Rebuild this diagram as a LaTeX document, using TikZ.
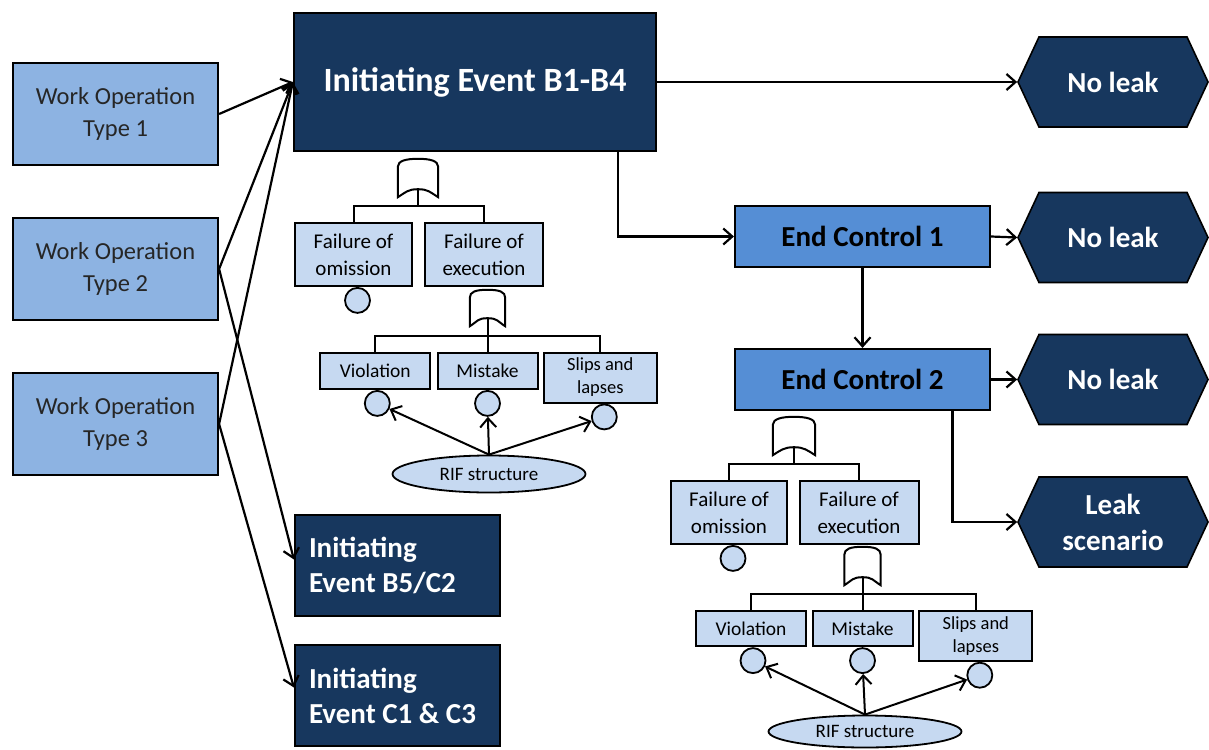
\documentclass[tikz,border=0pt]{standalone}
\usepackage{fontspec}
\setmainfont{Carlito}
\usepackage{tikz}
\usetikzlibrary{positioning, arrows.meta, shapes.geometric, shapes.symbols, calc}

\definecolor{navy}{HTML}{17375E}
\definecolor{ctlblue}{HTML}{558ED5}
\definecolor{woblue}{HTML}{8DB3E2}
\definecolor{pale}{HTML}{C6D9F1}

\begin{document}
\begin{tikzpicture}[
  x=1pt, y=-1pt,
  wop/.style={draw, line width=2.2pt, fill=woblue, text=black!85, align=center,
    minimum width=205pt, minimum height=102pt, font=\fontsize{24.5}{32}\selectfont},
  ievent/.style={draw, line width=2.2pt, fill=navy, text=white, inner sep=0pt,
    font=\bfseries\fontsize{34}{38}\selectfont},
  ievsmall/.style={draw, line width=2.2pt, fill=navy, text=white, align=flush left,
    text width=177pt, inner xsep=14pt, minimum height=101pt,
    font=\bfseries\fontsize{29}{35}\selectfont},
  endctl/.style={draw, line width=2.2pt, fill=ctlblue, text=black,
    minimum width=255pt, minimum height=61pt, font=\bfseries\fontsize{29}{34}\selectfont},
  outcome/.style={signal, signal to=west and east, signal pointer angle=130,
    draw, line width=1.6pt, fill=navy, text=white, align=center, inner sep=0pt,
    minimum width=190pt, minimum height=90pt, font=\bfseries\fontsize{29}{36}\selectfont},
  fbox/.style={draw, line width=2pt, fill=pale, align=center, inner sep=0pt,
    minimum height=63pt, font=\fontsize{21}{27}\selectfont},
  sbox/.style={draw, line width=2pt, fill=pale, align=center, inner sep=0pt,
    minimum height=36pt, font=\fontsize{19.5}{23}\selectfont},
  bevent/.style={circle, draw, line width=1.8pt, fill=pale, minimum size=25pt, inner sep=0pt},
  rif/.style={ellipse, draw, line width=1.8pt, fill=pale, inner sep=0pt,
    minimum width=193pt, font=\fontsize{19}{22}\selectfont},
  gate/.style={inner sep=0pt, minimum width=40pt, minimum height=38pt},
  gateline/.style={line width=2pt, fill=white},
  tline/.style={line width=2pt},
  arr/.style={line width=2.2pt, -{Straight Barb[length=9pt, width=16pt]}},
]
  \useasboundingbox (0,0) rectangle (1209,749);

  % work operations
  \node[wop] (wo1) at (115.5,114) {Work Operation\\Type 1};
  \node[wop] (wo2) at (115.5,269) {Work Operation\\Type 2};
  \node[wop] (wo3) at (115.5,424) {Work Operation\\Type 3};

  % initiating events
  \node[ievent, minimum width=362pt, minimum height=138pt] (ie) at (475,82) {Initiating Event B1-B4};
  \node[ievsmall] (ib5) at (397.5,565.5) {Initiating\\Event B5/C2};
  \node[ievsmall] (ic1) at (397.5,695.5) {Initiating\\Event C1 \& C3};

  % end controls and outcomes
  \node[endctl] (ec1) at (862.5,236.5) {End Control 1};
  \node[endctl] (ec2) at (862.5,379.5) {End Control 2};
  \node[outcome] (nl1) at (1113,82) {No leak};
  \node[outcome] (nl2) at (1113,237.5) {No leak};
  \node[outcome] (nl3) at (1113,379.5) {No leak};
  \node[outcome] (ls) at (1113,522) {Leak\\scenario};

  % fault tree under the initiating event
  \node[gate] (g1) at (418,178) {};
  \node[fbox, minimum width=117pt] (om1) at (353.5,254.5) {Failure of\\omission};
  \node[fbox, minimum width=118pt] (ex1) at (484,254.5) {Failure of\\execution};
  \node[gate, minimum width=35pt, minimum height=36pt] (g2) at (487.5,308) {};
  \node[sbox, minimum width=110pt] (vi1) at (375.3,371) {Violation};
  \node[sbox, minimum width=100pt] (mi1) at (487.5,371) {Mistake};
  \node[sbox, minimum width=113pt, minimum height=50pt, font=\fontsize{18.5}{23}\selectfont] (sl1) at (600.3,377.5) {Slips and\\lapses};
  \node[bevent, below=0pt of om1, xshift=4pt] (co1) {};
  \node[bevent, below=0pt of vi1, xshift=2pt] (cv1) {};
  \node[bevent, below=0pt of mi1] (cm1) {};
  \node[bevent, below=0pt of sl1, xshift=4pt] (cs1) {};
  \node[rif, minimum height=37pt] (rif1) at (489,474) {RIF structure};

  % fault tree under end control 2
  \node[gate, minimum width=42pt] (g3) at (794,436) {};
  \node[fbox, minimum width=116pt] (om2) at (729,512.5) {Failure of\\omission};
  \node[fbox, minimum width=119pt] (ex2) at (859,512.5) {Failure of\\execution};
  \node[gate, minimum width=36pt] (g4) at (862.5,566) {};
  \node[sbox, minimum width=110pt, minimum height=35pt] (vi2) at (751,628.7) {Violation};
  \node[sbox, minimum width=100pt, minimum height=35pt] (mi2) at (862.5,628.7) {Mistake};
  \node[sbox, minimum width=113pt, minimum height=50pt, font=\fontsize{18.5}{23}\selectfont] (sl2) at (975.8,635.8) {Slips and\\lapses};
  \node[bevent, below=0pt of om2, xshift=4pt] (co2) {};
  \node[bevent, below=0pt of vi2, xshift=2pt] (cv2) {};
  \node[bevent, below=0pt of mi2] (cm2) {};
  \node[bevent, below=0pt of sl2, xshift=4pt] (cs2) {};
  \node[rif, minimum height=32pt] (rif2) at (865,731.5) {RIF structure};

  % OR gates
  \foreach \g in {g1,g2,g3,g4}
    \draw[gateline] (\g.south west) -- ($(\g.north west)+(0,8)$)
      .. controls +(0,-6) and +(-12,0) .. (\g.north)
      .. controls +(12,0) and +(0,-6) .. ($(\g.north east)+(0,8)$)
      -- (\g.south east) .. controls +(-8,-5) and +(10,0) .. ($(\g.south)+(0,-8)$)
      .. controls +(-10,0) and +(8,-5) .. (\g.south west) -- cycle;

  % tree branches
  \draw[tline] (om1.north) |- ($(g1.south)+(0,9)$) -| (ex1.north);
  \draw[tline] ($(g1.south)+(0,-8)$) -- ($(g1.south)+(0,9)$);
  \draw[tline] (vi1.north) |- ($(g2.south)+(0,10)$) -| (sl1.north);
  \draw[tline] ($(g2.south)+(0,-8)$) -- (mi1.north);
  \draw[tline] (om2.north) |- ($(g3.south)+(0,9)$) -| (ex2.north);
  \draw[tline] ($(g3.south)+(0,-8)$) -- ($(g3.south)+(0,9)$);
  \draw[tline] (vi2.north) |- ($(g4.south)+(0,9)$) -| (sl2.north);
  \draw[tline] ($(g4.south)+(0,-8)$) -- (mi2.north);

  % RIF influence
  \foreach \c in {cv1,cm1,cs1}
    \draw[arr, line width=2pt] (rif1.north) -- (\c);
  \foreach \c in {cv2,cm2,cs2}
    \draw[arr, line width=2pt] (rif2.north) -- (\c);

  % work operations to initiating events
  \draw[arr] (wo1.east) -- (ie.west);
  \draw[arr] (wo2.east) -- (ie.west);
  \draw[arr] (wo3.east) -- (ie.west);
  \draw[arr] (wo2.east) -- ([yshift=6pt]ib5.west);
  \draw[arr] (wo3.east) -- ([yshift=8pt]ic1.west);

  % event sequence
  \draw[arr] (ie.east) -- (nl1.west);
  \draw[arr] ([xshift=143pt]ie.south) |- (ec1.west);
  \draw[arr] (ec1.east) -- (nl2.west);
  \draw[arr] (ec1.south) -- (ec2.north);
  \draw[arr] (ec2.east) -- (nl3.west);
  \draw[arr] ([xshift=90pt]ec2.south) |- (ls.west);
\end{tikzpicture}
\end{document}
